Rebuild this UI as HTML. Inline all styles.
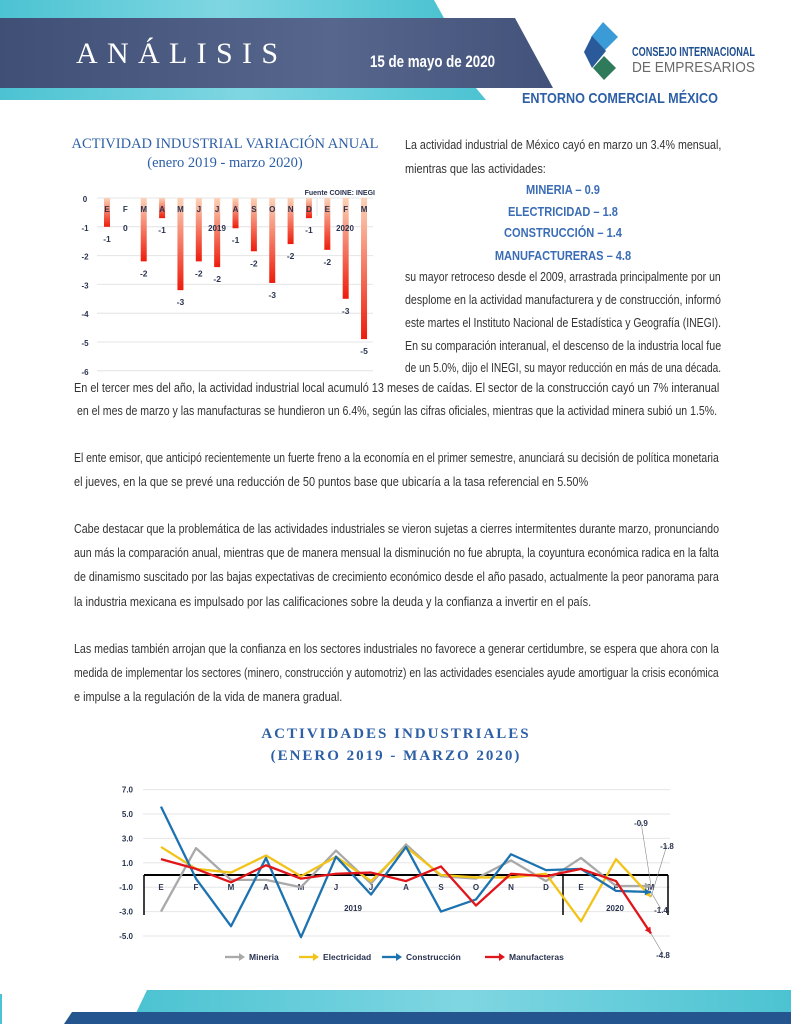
<!DOCTYPE html>
<html><head><meta charset="utf-8"><style>
body{margin:0;width:791px;height:1024px;position:relative;background:#fff;overflow:hidden;font-family:"Liberation Sans",sans-serif;color:#333}
.l{position:absolute;font-size:13px;white-space:nowrap;height:18px;line-height:18px;transform-origin:0 0}
.b{position:absolute;font-weight:bold;color:#3b6db6;font-size:13px;width:316px;left:405px;text-align:center;transform:scaleX(0.85);transform-origin:50% 0}
</style></head><body>
<svg width="791" height="110" style="position:absolute;left:0;top:0">
<defs><linearGradient id="tg" x1="0" x2="1"><stop offset="0" stop-color="#4cc3d2"/><stop offset="0.5" stop-color="#7fd6e2"/><stop offset="1" stop-color="#4cc3d2"/></linearGradient>
<linearGradient id="ng" x1="0" x2="1"><stop offset="0" stop-color="#3f4f75"/><stop offset="0.6" stop-color="#56668c"/><stop offset="1" stop-color="#42527a"/></linearGradient></defs>
<polygon points="0,0 434,0 444,18 0,18" fill="url(#tg)"/>
<polygon points="0,18 515,18 553,88 0,88" fill="url(#ng)"/>
<polygon points="0,88 476,88 486,100 0,100" fill="url(#tg)"/>
<text x="76" y="63" font-family="Liberation Serif" font-size="30" fill="#fff" textLength="202" lengthAdjust="spacing">ANÁLISIS</text>
<text x="370" y="67" font-family="Liberation Sans" font-weight="bold" font-size="17" fill="#fff" textLength="125" lengthAdjust="spacingAndGlyphs">15 de mayo de 2020</text>
<g><polygon points="603,22 618,37 603,52 591,37" fill="#3b9bd6"/><polygon points="592,36 606,51 592,68 584,52" fill="#2a5a9a"/><polygon points="604,56 616,68 604,80 593,68" fill="#2f7a5a"/></g>
<text x="632" y="56" font-family="Liberation Sans" font-weight="bold" font-size="13" fill="#1f4f8f" textLength="123" lengthAdjust="spacingAndGlyphs">CONSEJO INTERNACIONAL</text>
<text x="632" y="72" font-family="Liberation Sans" font-size="15" fill="#6a6a6a" textLength="123" lengthAdjust="spacingAndGlyphs">DE EMPRESARIOS</text>
<text x="522" y="103" font-family="Liberation Sans" font-weight="bold" font-size="15" fill="#2d5fa6" textLength="196" lengthAdjust="spacingAndGlyphs">ENTORNO COMERCIAL MÉXICO</text>
</svg>

<div style="position:absolute;left:56px;top:135px;width:338px;text-align:center;font-family:'Liberation Serif',serif;color:#2d5fa6;font-size:14.5px;line-height:19px">ACTIVIDAD INDUSTRIAL VARIACIÓN ANUAL<br>(enero 2019 - marzo 2020)</div>
<svg id="bar" width="330" height="200" style="position:absolute;left:60px;top:180px"></svg>

<div class="l" data-w="316" style="left:405px;top:136px">La actividad industrial de México cayó en marzo un 3.4% mensual,</div>
<div class="l" style="left:405px;top:160px">mientras que las actividades:</div>
<div class="b" style="top:182px">MINERIA – 0.9</div>
<div class="b" style="top:204px">ELECTRICIDAD – 1.8</div>
<div class="b" style="top:225px">CONSTRUCCIÓN – 1.4</div>
<div class="b" style="top:248px">MANUFACTURERAS – 4.8</div>
<div class="l" data-w="316" style="left:405px;top:268px">su mayor retroceso desde el 2009, arrastrada principalmente por un</div>
<div class="l" data-w="316" style="left:405px;top:291px">desplome en la actividad manufacturera y de construcción, informó</div>
<div class="l" data-w="316" style="left:405px;top:314px">este martes el Instituto Nacional de Estadística y Geografía (INEGI).</div>
<div class="l" data-w="316" style="left:405px;top:337px">En su comparación interanual, el descenso de la industria local fue</div>
<div class="l" data-w="316" style="left:405px;top:359px">de un 5.0%, dijo el INEGI, su mayor reducción en más de una década.</div>
<div class="l" data-w="645" style="left:74px;top:379px">En el tercer mes del año, la actividad industrial local acumuló 13 meses de caídas. El sector de la construcción cayó un 7% interanual</div>
<div class="l" data-w="640" style="left:77px;top:402px">en el mes de marzo y las manufacturas se hundieron un 6.4%, según las cifras oficiales, mientras que la actividad minera subió un 1.5%.</div>
<div class="l" data-w="645" style="left:74px;top:449px">El ente emisor, que anticipó recientemente un fuerte freno a la economía en el primer semestre, anunciará su decisión de política monetaria</div>
<div class="l" style="left:74px;top:473px">el jueves, en la que se prevé una reducción de 50 puntos base que ubicaría a la tasa referencial en 5.50%</div>
<div class="l" data-w="645" style="left:74px;top:520px">Cabe destacar que la problemática de las actividades industriales se vieron sujetas a cierres intermitentes durante marzo, pronunciando</div>
<div class="l" data-w="645" style="left:74px;top:544px">aun más la comparación anual, mientras que de manera mensual la disminución no fue abrupta, la coyuntura económica radica  en la falta</div>
<div class="l" data-w="645" style="left:74px;top:568px">de dinamismo suscitado por las bajas  expectativas de crecimiento económico desde el año pasado, actualmente la peor panorama para</div>
<div class="l" style="left:74px;top:593px">la industria mexicana es impulsado por las calificaciones sobre la deuda y la confianza a invertir en el país.</div>
<div class="l" data-w="645" style="left:74px;top:640px">Las medias también arrojan que la confianza en los sectores industriales no favorece a generar certidumbre, se espera que ahora con la</div>
<div class="l" data-w="645" style="left:74px;top:664px">medida de implementar los sectores (minero, construcción y automotriz) en las actividades esenciales ayude amortiguar la crisis económica</div>
<div class="l" style="left:74px;top:688px">e impulse a la regulación de la vida de manera gradual.</div>

<div style="position:absolute;left:150px;top:723px;width:492px;text-align:center;font-family:'Liberation Serif',serif;color:#2d5fa6;font-size:15px;letter-spacing:2px;line-height:22px;font-weight:bold">ACTIVIDADES INDUSTRIALES<br>(ENERO 2019 - MARZO 2020)</div>
<svg id="line" width="791" height="200" style="position:absolute;left:0;top:775px"></svg>

<svg width="791" height="40" style="position:absolute;left:0;top:984px">
<defs><linearGradient id="tg2" x1="0" x2="1"><stop offset="0" stop-color="#4cc3d2"/><stop offset="0.5" stop-color="#7fd6e2"/><stop offset="1" stop-color="#4cc3d2"/></linearGradient></defs>
<polygon points="147,6 791,6 791,29 136,29" fill="url(#tg2)"/>
<polygon points="72,28 791,28 791,40 64,40" fill="#25558f"/>
<rect x="0" y="10" width="2" height="30" fill="#4cc3d2"/>
</svg>

<script>
const NS="http://www.w3.org/2000/svg";
function mk(p,t,a,txt){const e=document.createElementNS(NS,t);for(const k in a)e.setAttribute(k,a[k]);if(txt!==undefined)e.textContent=txt;p.appendChild(e);return e;}
// Bar chart data
const barMonths=["E","F","M","A","M","J","J","A","S","O","N","D","E","F","M"];
const barValues=[-1.0,0,-2.2,-0.7,-3.2,-2.2,-2.4,-1.05,-1.85,-2.95,-1.6,-0.7,-1.8,-3.5,-4.9];
const barTicks=[0,-1,-2,-3,-4,-5,-6];
// Line chart data
const lineMonths=["E","F","M","A","M","J","J","A","S","O","N","D","E","F","M"];
const mineria=[-3.0,2.2,-0.4,-0.4,-1.0,2.0,-0.7,2.5,-0.1,-0.3,1.2,-0.5,1.4,-0.9,-0.9];
const electricidad=[2.3,0.5,0.2,1.6,-0.1,1.5,-0.5,2.3,0.0,-0.2,-0.2,0.1,-3.8,1.3,-1.8];
const construccion=[5.6,-0.3,-4.2,1.4,-5.1,1.5,-1.6,2.3,-3.0,-2.0,1.7,0.4,0.5,-1.3,-1.4];
const manufactureras=[1.3,0.5,-0.6,0.8,-0.3,0.1,0.2,-0.5,0.7,-2.5,0.1,-0.1,0.5,-0.5,-4.8];
const lineTicks=[7,5,3,1,-1,-3,-5];

document.querySelectorAll('.l').forEach(el=>{
 
 
 const w=+el.getAttribute('data-w');const nat=el.scrollWidth;
 const f=w?w/nat:0.84;el.style.transform='scaleX('+f+')';});
document.querySelectorAll('.b').forEach(el=>{
 
 });

(function(){
 const s=document.getElementById('bar');
 const y=v=>18-v*28.8; const x=i=>47+i*18.36;
 barTicks.forEach(t=>{const g=mk(s,'line',{x1:37,x2:313,y1:y(t),y2:y(t),stroke:'#e4e4e4'});
  const tl=mk(s,'text',{x:25,y:y(t)+4,'font-size':8,'font-weight':'bold','font-family':'Liberation Sans','fill':'#2a3450','text-anchor':'middle'},String(t));});
 mk(s,'line',{x1:257,x2:257,y1:18,y2:36,stroke:'#e4e4e4'});
 const d=mk(s,'defs',{});const lg=mk(d,'linearGradient',{id:'bg',x1:0,x2:0,y1:0,y2:1});mk(lg,'stop',{offset:0,'stop-color':'#fbd3b8'});mk(lg,'stop',{offset:1,'stop-color':'#ee1c0c'});
 barValues.forEach((v,i)=>{const h=Math.abs(v)*28.8;const r=mk(s,'rect',{x:x(i)-3,y:y(0),width:6,height:h,fill:'url(#bg)'});
  const ml=mk(s,'text',{x:x(i),y:32,'font-size':8,'font-weight':'bold','font-family':'Liberation Sans','fill':'#2a3450','text-anchor':'middle'},barMonths[i]);
  const vl=mk(s,'text',{x:x(i),y:v===0?51:y(v)+15,'font-size':8.5,'font-weight':'bold','font-family':'Liberation Sans','fill':'#2a3450','text-anchor':'middle'},String(Math.round(v)===0?0:Math.round(v)));});
 mk(s,'text',{x:157,y:51,'font-size':8,'font-weight':'bold','font-family':'Liberation Sans','fill':'#2a3450','text-anchor':'middle'},'2019');
 mk(s,'text',{x:285,y:51,'font-size':8,'font-weight':'bold','font-family':'Liberation Sans','fill':'#2a3450','text-anchor':'middle'},'2020');
 const f=mk(s,'text',{x:315,y:15,'font-size':7,'font-weight':'bold','font-family':'Liberation Sans','fill':'#2a3450','text-anchor':'end'},'Fuente COINE: INEGI');
})();

(function(){
 const s=document.getElementById('line');
 const y=v=>100-v*12.2; const x=i=>161+i*35;
 lineTicks.forEach(t=>{const g=mk(s,'line',{x1:143,x2:670,y1:y(t),y2:y(t),stroke:'#e6e6e6'});
  const tl=mk(s,'text',{x:133,y:y(t)+3,'font-size':8,'font-weight':'bold','font-family':'Liberation Sans','fill':'#2a3450','text-anchor':'end'},t.toFixed(1));});
 mk(s,'line',{x1:144,x2:668,y1:y(0),y2:y(0),stroke:'#000','stroke-width':2});
 [144,563,668].forEach(xx=>mk(s,'line',{x1:xx,x2:xx,y1:y(0),y2:140,stroke:'#000','stroke-width':1.5}));
 lineMonths.forEach((m,i)=>{const e=mk(s,'text',{x:x(i),y:115,'font-size':8,'font-weight':'bold','font-family':'Liberation Sans','fill':'#2a3450','text-anchor':'middle'},m);});
 mk(s,'text',{x:353,y:136,'font-size':8,'font-weight':'bold','font-family':'Liberation Sans','fill':'#2a3450','text-anchor':'middle'},'2019');
 mk(s,'text',{x:615,y:136,'font-size':8,'font-weight':'bold','font-family':'Liberation Sans','fill':'#2a3450','text-anchor':'middle'},'2020');
 const series=[[mineria,'#a9a9a9','mineria'],[electricidad,'#f2c318','electricidad'],[construccion,'#1d72b0','construccion'],[manufactureras,'#e0161b','manufactureras']];
 series.forEach(([d,c,n])=>{const p=mk(s,'polyline',{points:d.map((v,i)=>x(i)+','+y(v)).join(' '),fill:'none',stroke:c,'stroke-width':2.3,'stroke-linejoin':'round'});
  const lx=x(d.length-1),ly=y(d[d.length-1]),px=x(d.length-2),py=y(d[d.length-2]);const a=Math.atan2(ly-py,lx-px);
  mk(s,'polygon',{points:`${lx},${ly} ${lx-7*Math.cos(a-0.5)},${ly-7*Math.sin(a-0.5)} ${lx-7*Math.cos(a+0.5)},${ly-7*Math.sin(a+0.5)}`,fill:c});});
 const ann=[['-0.9',641,51,mineria],['-1.8',667,74,electricidad],['-1.4',661,138,construccion],['-4.8',663,183,manufactureras]];
 ann.forEach(([t,tx,ty,d])=>{mk(s,'line',{x1:x(14),y1:y(d[14]),x2:tx,y2:ty-4,stroke:'#888','stroke-width':0.6});const e=mk(s,'text',{x:tx,y:ty,'font-size':8,'font-weight':'bold','font-family':'Liberation Sans','fill':'#2a3450','text-anchor':'middle'},t);});
 const leg=[['Mineria','#a9a9a9',225],['Electricidad','#f2c318',299],['Construcción','#1d72b0',382],['Manufacteras','#e0161b',485]];
 leg.forEach(([t,c,lx])=>{const g=mk(s,'g',{});
  mk(g,'line',{x1:lx,x2:lx+15,y1:182,y2:182,stroke:c,'stroke-width':2.3});mk(g,'polygon',{points:`${lx+20},182 ${lx+14},178 ${lx+14},186`,fill:c});
  mk(g,'text',{x:lx+24,y:185,'font-size':8.5,'font-weight':'bold','font-family':'Liberation Sans','fill':'#2a3450'},t);});
})();
</script>
</body></html>
